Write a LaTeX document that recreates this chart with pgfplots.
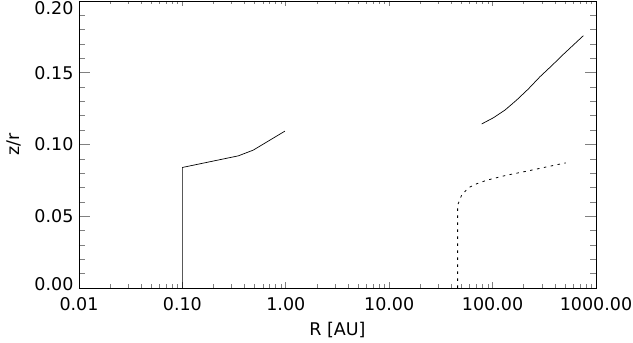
\documentclass[border=0pt]{standalone}
\usepackage{fontspec}
\setmainfont{DejaVu Sans}
\usepackage{pgfplots}
\pgfplotsset{compat=1.18}
\begin{document}
\begin{tikzpicture}
\begin{axis}[
  scale only axis, width=517pt, height=287pt,
  xmode=log, xmin=0.01, xmax=1000, ymin=0, ymax=0.2,
  clip=false,
  axis line style={line width=0.8pt},
  tick align=inside,
  xtick={0.01,0.1,1,10,100,1000},
  xticklabels={0.01,0.10,1.00,10.00,100.00,1000.00},
  ytick={0,0.05,0.1,0.15,0.2},
  yticklabels={{\smash{\raisebox{4pt}{0.00}}\vphantom{0}},0.05,0.10,0.15,{\smash{\raisebox{-7pt}{0.20}}\vphantom{0}}},
  minor ytick={0.01,0.02,0.03,0.04,0.06,0.07,0.08,0.09,0.11,0.12,0.13,0.14,0.16,0.17,0.18,0.19},
  xtick style={/pgfplots/major tick length=5.5pt,/pgfplots/minor tick length=3.5pt, line width=0.6pt},
  ytick style={/pgfplots/major tick length=11pt,/pgfplots/minor tick length=6pt, line width=0.6pt},
  tick label style={font=\fontsize{17.5}{20}\selectfont},
  xticklabel style={yshift=-6pt},
  yticklabel style={xshift=-2pt},
  xlabel={R [AU]},
  ylabel={z/r},
  every axis x label/.style={at={(axis description cs:0.5,0)}, yshift=-42pt, anchor=center, font=\fontsize{17.5}{20}\selectfont},
  every axis y label/.style={at={(axis description cs:0,0.5)}, xshift=-65pt, anchor=center, rotate=90, font=\fontsize{17.5}{20}\selectfont},
]
\addplot[black, line width=0.7pt] coordinates {
 (0.1,0) (0.1,0.084) (0.348,0.0921) (0.485,0.0961) (0.98,0.1093)
};
\addplot[black, line width=0.7pt] coordinates {
 (78.4,0.1143) (101.6,0.1186) (131.8,0.1240) (171,0.1310) (221,0.1386)
 (287,0.1472) (373,0.1549) (483,0.1628) (754,0.1758)
};
\addplot[black, line width=0.8pt, dash pattern=on 2.5pt off 4.5pt] coordinates {
 (45.9,0) (45.9,0.03) (45.9,0.0577) (50.2,0.0647) (58.2,0.0698) (71.1,0.0728)
 (87.7,0.0751) (136.8,0.0786) (213.6,0.0814) (333.6,0.0844) (509,0.0872)
};
\path (rel axis cs:0,0) ++(-79pt,-55pt) coordinate (bl);
\path (rel axis cs:1,1) ++(37pt,1pt) coordinate (tr);
\end{axis}
\pgfresetboundingbox
\useasboundingbox (bl) rectangle (tr);
\end{tikzpicture}
\end{document}
